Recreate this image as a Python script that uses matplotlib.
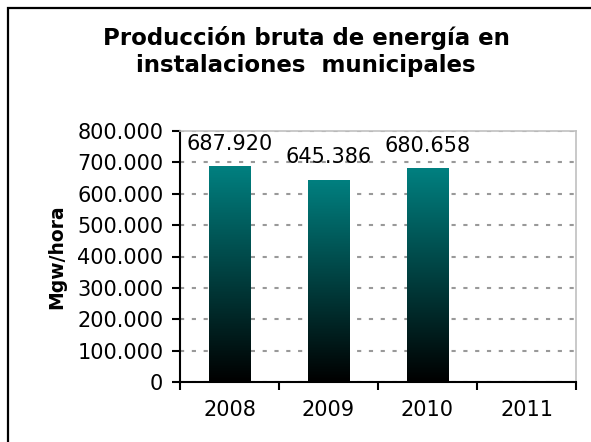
import matplotlib
matplotlib.use('Agg')
import matplotlib.pyplot as plt
import numpy as np
from matplotlib.colors import LinearSegmentedColormap
from matplotlib.patches import Rectangle

years = ['2008', '2009', '2010', '2011']
produccion = [687920, 645386, 680658, np.nan]
title_lines = ['Producción bruta de energía en', 'instalaciones  municipales']
y_ticks = list(range(0, 800001, 100000))

plt.rcParams['font.family'] = 'DejaVu Sans'
plt.rcParams['lines.scale_dashes'] = False

W, H = 591, 442
fig = plt.figure(figsize=(W / 100, H / 100), dpi=100)
fig.patch.set_facecolor('white')

# outer chart frame (right/bottom edges fall outside the picture)
fig.add_artist(Rectangle((8 / W, -0.1), 1.2, 1.1 - 8 / H, transform=fig.transFigure,
                         fill=False, ec='black', lw=1.6))

fig.text(306 / W, 1 - 45 / H, title_lines[0], ha='center', va='baseline',
         fontsize=16.5, fontweight='bold')
fig.text(306 / W, 1 - 72 / H, title_lines[1], ha='center', va='baseline',
         fontsize=16.5, fontweight='bold')

ax = fig.add_axes([180 / W, (H - 382) / H, 396 / W, 251 / H])

for s in ['top', 'right']:
    ax.spines[s].set_color('#c0c0c0')
    ax.spines[s].set_linewidth(1.2)
for s in ['left', 'bottom']:
    ax.spines[s].set_color('black')
    ax.spines[s].set_linewidth(1.5)

ax.set_yticks(y_ticks)
ax.set_yticklabels([f'{v:,.0f}'.replace(',', '.') for v in y_ticks])
ax.yaxis.grid(True, color='#999999', lw=1.5, linestyle=(0, (3, 5.5)))
ax.set_axisbelow(True)

# tick marks sit between categories, labels in the middle
ax.set_xticks([i - 0.5 for i in range(len(years) + 1)])
ax.set_xticklabels([])
ax.set_xticks(range(len(years)), minor=True)
ax.set_xticklabels(years, minor=True)
ax.tick_params(axis='x', which='major', direction='out', length=5.5, width=1.5)
ax.tick_params(axis='x', which='minor', length=0, pad=13, labelsize=15)
ax.tick_params(axis='y', direction='out', length=6, width=1.5, pad=6, labelsize=15)

ax.set_ylabel('Mgw/hora', fontsize=13.5, fontweight='bold', labelpad=8)

cmap = LinearSegmentedColormap.from_list('teal', ['#000000', '#008080'])
grad = np.linspace(0, 1, 256).reshape(-1, 1)

x = np.arange(len(years))
vals = np.array(produccion, dtype=float)
ok = ~np.isnan(vals)
bars = ax.bar(x[ok], vals[ok], width=0.42, color='none', edgecolor='none')
for b, v in zip(bars, vals[ok]):
    x0, w, h = b.get_x(), b.get_width(), b.get_height()
    im = ax.imshow(grad, cmap=cmap, origin='lower', aspect='auto',
                   extent=[x0, x0 + w, 0, h], zorder=2)
    im.set_clip_path(b)
    ax.annotate(f'{v:,.0f}'.replace(',', '.'), (x0 + w / 2, h),
                xytext=(0, 9), textcoords='offset points',
                ha='center', va='bottom', fontsize=15)
ax.set_xlim(-0.5, len(years) - 0.5)
ax.set_ylim(0, 800000)

fig.savefig('out.png', dpi=100)
